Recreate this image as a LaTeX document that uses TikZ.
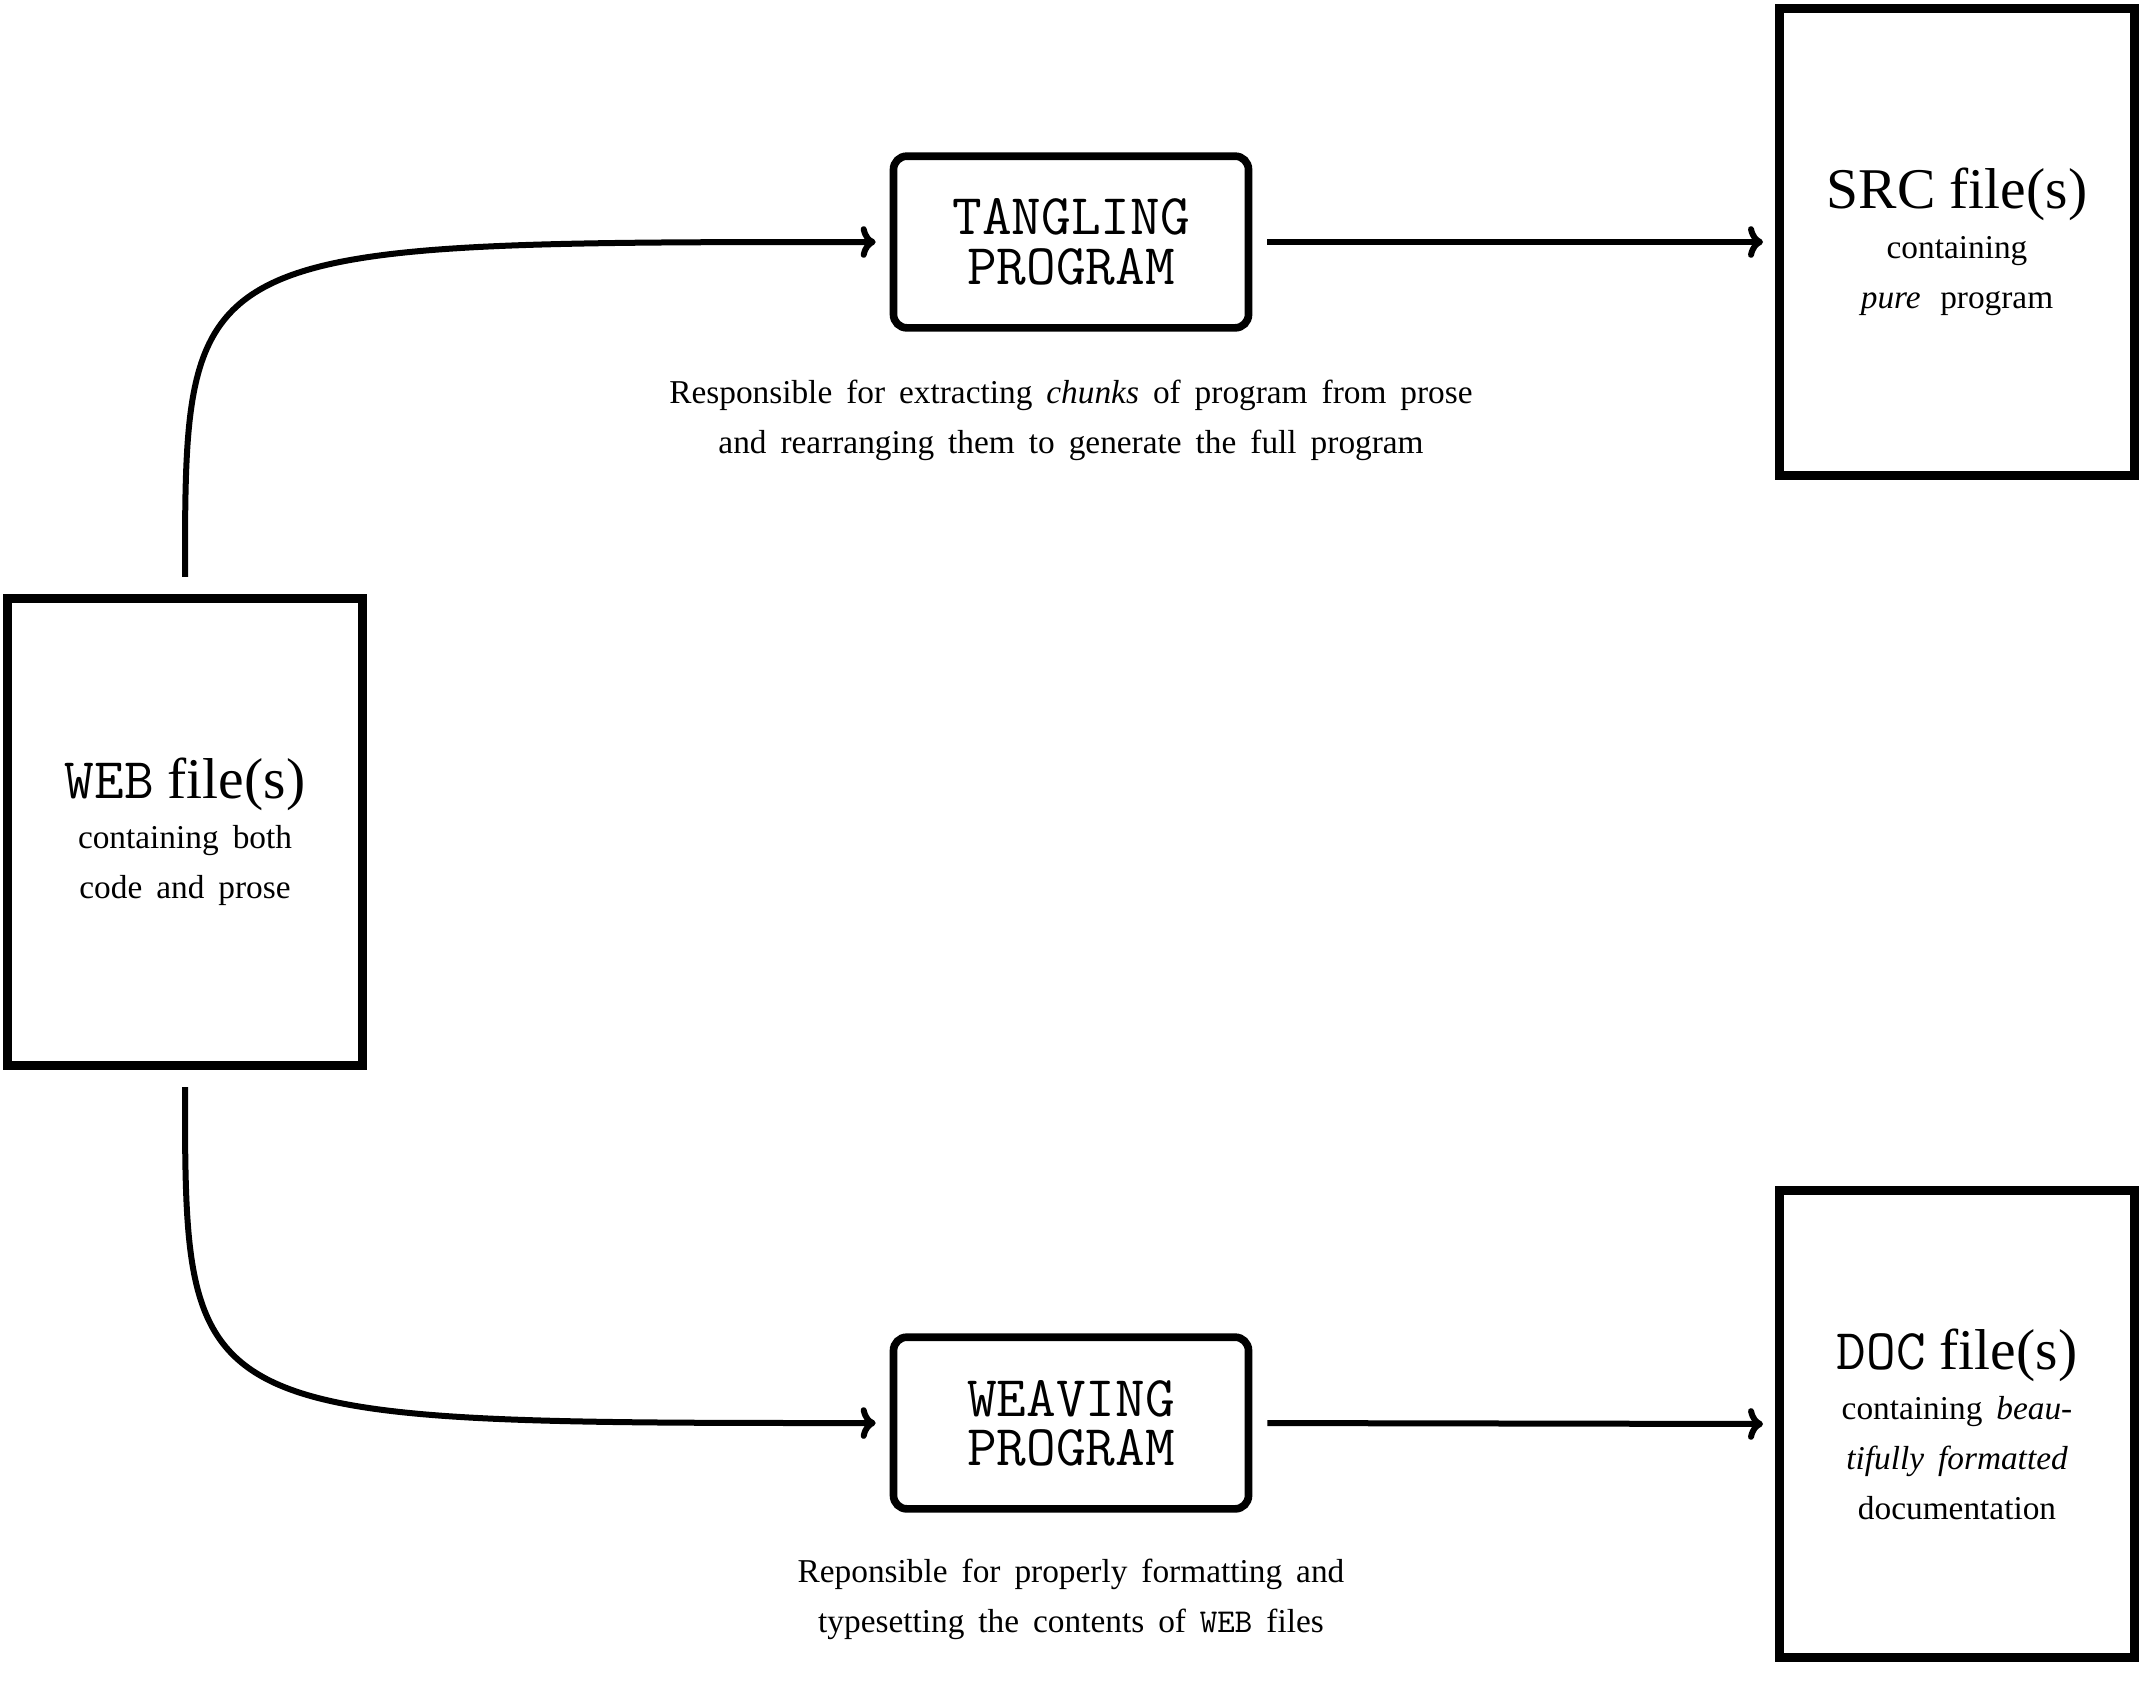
\documentclass[tikz,border=0pt]{standalone}
\usepackage{fontspec}
\setmainfont{Liberation Serif}
\usetikzlibrary{arrows.meta}
\newcommand\bigtxt{\fontsize{17.28}{15}\selectfont}
\newcommand\smalltxt{\fontsize{10}{15}\selectfont\spaceskip=0.42em\relax}
\begin{document}
\begin{tikzpicture}[x=0.3pt,y=-0.3pt,
  filebox/.style={draw, line width=2.7pt, minimum width=106.5pt, minimum height=140pt,
    inner sep=0pt, align=center, font=\smalltxt},
  procbox/.style={draw, line width=2.3pt, rounded corners=4pt, minimum width=106.5pt,
    minimum height=51.5pt, inner sep=0pt, align=center,
    font=\fontsize{17.28}{14.8}\selectfont\ttfamily},
  caption/.style={inner sep=0pt, align=center, font=\smalltxt},
  conn/.style={line width=1.8pt, -{To[length=4.5pt,width=9.5pt]}, shorten <=4.5pt, shorten >=4.2pt}
]
\useasboundingbox (0,0) rectangle (2143,1691);

\node[filebox] (web) at (185,832) {{\bigtxt\texttt{WEB} file(s)}\\ containing both\\ code and prose};
\node[filebox] (src) at (1957,242) {{\bigtxt SRC file(s)}\\ containing\\ \emph{pure}\, program};
\node[filebox] (doc) at (1957,1424) {{\bigtxt\texttt{DOC} file(s)}\\ containing \emph{beau-}\\ \emph{tifully formatted}\\ documentation};

\node[procbox] (tangle) at (1071,242) {TANGLING\\PROGRAM};
\node[procbox] (weave) at (1071,1423) {WEAVING\\PROGRAM};

\node[caption] (tcap) at (1071,420) {Responsible for extracting \emph{chunks} of program from prose\\ and rearranging them to generate the full program};
\node[caption] (wcap) at (1071,1599) {Reponsible for properly formatting and\\ typesetting the contents of \texttt{WEB} files};

\draw[conn, shorten <=5.2pt] (web.north) .. controls (web.north |- tangle.west) and (web.north |- tangle.west) .. (tangle.west);
\draw[conn, shorten <=5.2pt] (web.south) .. controls (web.south |- weave.west) and (web.south |- weave.west) .. (weave.west);
\draw[conn, shorten >=3.6pt] (tangle.east) -- (src.west);
\draw[conn, shorten >=3.6pt] (weave.east) -- (doc.west);
\end{tikzpicture}
\end{document}
